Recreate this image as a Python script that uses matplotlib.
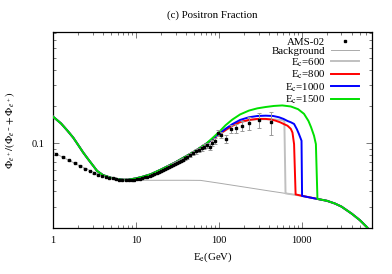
import numpy as np
import matplotlib
matplotlib.use("Agg")
import matplotlib.pyplot as plt
from matplotlib.lines import Line2D
from matplotlib.ticker import NullFormatter, LogLocator

plt.rcParams['font.family'] = ['Liberation Serif', 'DejaVu Serif']
plt.rcParams['mathtext.fontset'] = 'stix'

# AMS-02 positron fraction
ams_E = [1.10, 1.33, 1.57, 1.83, 2.12, 2.44, 2.77, 3.12, 3.50, 3.90, 4.32, 4.77,
         5.25, 5.75, 6.28, 6.86, 7.48, 8.15, 8.85, 9.58, 10.34, 11.13, 11.96, 12.83,
         13.73, 14.67, 15.65, 16.66, 17.71, 18.81, 19.95, 21.15, 22.41, 23.76, 25.16,
         26.60, 28.10, 29.66, 31.27, 32.95, 34.68, 36.48, 38.69, 41.69, 45.19, 48.93,
         52.92, 57.17, 61.69, 66.51, 71.65, 77.15, 83.0, 89.2, 96.2, 107.3, 123.3,
         141.5, 162.2, 189.5, 232.0, 300.0, 420.0]
ams_F = [0.0810, 0.0770, 0.0723, 0.0687, 0.0649, 0.0616, 0.0589, 0.0566, 0.0549,
         0.0537, 0.0526, 0.0518, 0.0511, 0.0506, 0.0501, 0.0498, 0.0496, 0.0496,
         0.0497, 0.0500, 0.0504, 0.0510, 0.0516, 0.0523, 0.0530, 0.0538, 0.0546,
         0.0555, 0.0566, 0.0575, 0.0586, 0.0598, 0.0610, 0.0624, 0.0640, 0.0648,
         0.0664, 0.0675, 0.0690, 0.0702, 0.0718, 0.0730, 0.0748, 0.0770, 0.0800,
         0.0825, 0.0855, 0.0880, 0.0910, 0.0935, 0.0960, 0.0930, 0.1000, 0.1045,
         0.1210, 0.1170, 0.1090, 0.1310, 0.1330, 0.1390, 0.1460, 0.1550, 0.1480]
ams_err = [0.0006, 0.0006, 0.0006, 0.0005, 0.0005, 0.0005, 0.0005, 0.0005, 0.0005,
           0.0005, 0.0005, 0.0005, 0.0005, 0.0005, 0.0005, 0.0005, 0.0005, 0.0005,
           0.0006, 0.0006, 0.0006, 0.0006, 0.0007, 0.0007, 0.0008, 0.0008, 0.0009,
           0.0009, 0.0010, 0.0011, 0.0012, 0.0013, 0.0014, 0.0015, 0.0016, 0.0017,
           0.0018, 0.0019, 0.0020, 0.0021, 0.0022, 0.0023, 0.0025, 0.0027, 0.0030,
           0.0032, 0.0035, 0.0038, 0.0042, 0.0046, 0.0050, 0.0055, 0.0058, 0.0062,
           0.0070, 0.0070, 0.0080, 0.0100, 0.0110, 0.0140, 0.0170, 0.0210, 0.0320]

# curve shared by all models below ~70 GeV
low_E = [1, 1.25, 1.5, 1.75, 2, 2.3, 2.6, 3, 3.4, 4, 5, 6, 7, 8, 10, 12, 15, 20,
         30, 50, 70]
low_F = [0.165, 0.145, 0.126, 0.111, 0.097, 0.084, 0.075, 0.066, 0.059, 0.0545,
         0.0518, 0.0505, 0.0499, 0.0499, 0.0512, 0.0528, 0.0553, 0.0605, 0.0695,
         0.0848, 0.0985]

# background
bg_E = [1, 1.5, 2, 3, 4, 5, 6, 8, 10, 20, 40, 60, 100, 200, 400, 640, 1000, 1500,
        2000, 2500, 3000, 4000, 5000, 6000, 7000]
bg_F = [0.084, 0.073, 0.066, 0.058, 0.054, 0.0515, 0.0503, 0.0496, 0.0494, 0.0494,
        0.0494, 0.0493, 0.0468, 0.0435, 0.0404, 0.0385, 0.0368, 0.0348, 0.0335,
        0.0318, 0.0300, 0.0262, 0.0232, 0.0205, 0.0182]

# high-energy part of each model, up to its cutoff
E600 = [85, 100, 120, 145, 180, 230, 290, 366, 430, 500, 560, 600, 615, 635]
F600 = [0.108, 0.117, 0.127, 0.138, 0.148, 0.154, 0.157, 0.157, 0.157, 0.156,
        0.155, 0.153, 0.150, 0.0387]
E800 = [85, 100, 120, 145, 180, 230, 290, 366, 430, 480, 550, 610, 670, 735, 770,
        805, 840]
F800 = [0.108, 0.117, 0.128, 0.139, 0.149, 0.155, 0.158, 0.158, 0.156, 0.153,
        0.148, 0.143, 0.139, 0.131, 0.122, 0.098, 0.0378]
E1000 = [85, 100, 120, 145, 180, 230, 290, 366, 450, 530, 600, 670, 740, 805, 870,
         920, 990, 1005]
F1000 = [0.109, 0.119, 0.131, 0.143, 0.155, 0.163, 0.167, 0.168, 0.167, 0.163,
         0.158, 0.152, 0.148, 0.1436, 0.130, 0.119, 0.1045, 0.0367]
E1500 = [85, 100, 120, 145, 180, 230, 290, 366, 460, 580, 735, 900, 1060, 1200,
         1290, 1400, 1475, 1540]
F1500 = [0.111, 0.123, 0.140, 0.156, 0.172, 0.185, 0.193, 0.198, 0.202, 0.204,
         0.200, 0.190, 0.174, 0.152, 0.135, 0.115, 0.098, 0.0347]

models = [("600", E600, F600, "#c0c0c0"),
          ("800", E800, F800, "#ff0000"),
          ("1000", E1000, F1000, "#0000ff"),
          ("1500", E1500, F1500, "#00e000")]

fig = plt.figure(figsize=(3.92, 2.74), dpi=100)
ax = fig.add_axes([53 / 392, 1 - 228 / 274, 319 / 392, 196 / 274])

ax.errorbar(ams_E, ams_F, yerr=ams_err, fmt='s', color='black', ms=1.8,
            ecolor='#999999', elinewidth=0.7, capsize=1.3, capthick=0.7, zorder=5)
handles = [Line2D([], [], ls='none', marker='s', color='black', ms=1.8)]
labels = ['AMS-02']

h, = ax.plot(bg_E, bg_F, color='#aaaaaa', lw=0.7, zorder=2)
handles.append(h)
labels.append('Background')

bgE = np.array(bg_E)
bgF = np.array(bg_F)
for name, E, F, col in models:
    tail = bgE > E[-1]
    xs = np.concatenate([low_E, E, bgE[tail]])
    ys = np.concatenate([low_F, F, bgF[tail]])
    h, = ax.plot(xs, ys, color=col, lw=1.4, zorder=3)
    handles.append(h)
    labels.append(r'E$_\mathrm{c}$=' + name)

ax.set_xscale('log')
ax.set_yscale('log')
ax.set_xlim(1, 7000)
ax.set_ylim(0.02, 0.82)

x_ticks = [1, 10, 100, 1000]
x_labels = ['1', '10', '100', '1000']
ax.set_xticks(x_ticks)
ax.set_xticklabels(x_labels)
ax.xaxis.set_minor_locator(LogLocator(base=10, subs=np.arange(2, 10)))
ax.xaxis.set_minor_formatter(NullFormatter())
ax.set_yticks([0.1])
ax.set_yticklabels(['0.1'])
ax.yaxis.set_minor_locator(LogLocator(base=10, subs=np.arange(2, 10)))
ax.yaxis.set_minor_formatter(NullFormatter())

ax.tick_params(which='both', direction='in', top=True, right=True,
               labelsize=7.5, width=0.5, color='#444444', pad=6)
ax.tick_params(which='major', length=4)
ax.tick_params(which='minor', length=2)
for s in ax.spines.values():
    s.set_linewidth(0.9)

ax.set_title('(c) Positron Fraction', fontsize=7.8, pad=10)
ax.set_xlabel(r'E$_\mathrm{e}$(GeV)', fontsize=7.8, labelpad=4)
ax.set_ylabel(r'$\Phi_{e^+}/(\Phi_{e^-}+\Phi_{e^+})$', fontsize=7.8, labelpad=11)

ax.legend(handles, labels, loc='upper right',
          bbox_to_anchor=(359 / 392, 1 - 37 / 274), bbox_transform=fig.transFigure,
          frameon=False, markerfirst=False, fontsize=7.8, handlelength=2.6,
          handletextpad=0.5, labelspacing=0.0, borderaxespad=0, borderpad=0)

fig.savefig('out.png', dpi=100)
